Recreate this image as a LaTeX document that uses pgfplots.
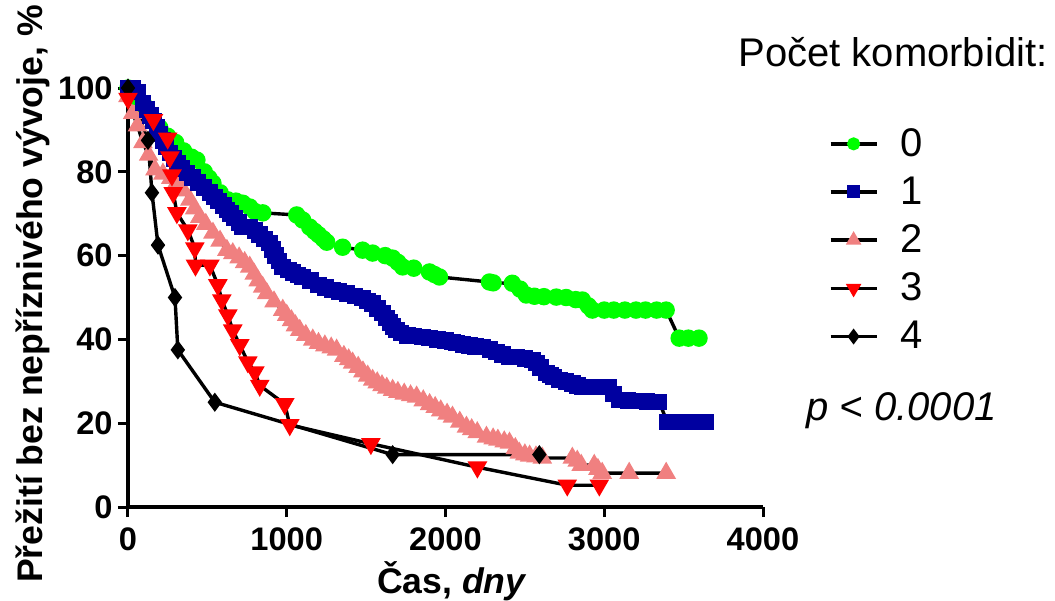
\documentclass[border=0pt]{standalone}
\usepackage{fontspec}
\setmainfont{Liberation Sans}
\usepackage{pgfplots}
\pgfplotsset{compat=1.18}

\definecolor{cGreen}{RGB}{0,255,0}
\definecolor{cBlue}{RGB}{0,0,160}
\definecolor{cPink}{RGB}{240,128,128}
\definecolor{cRed}{RGB}{255,0,0}

\pgfplotsset{
  km legend/.style={legend image code/.code={\draw[mark repeat=2,mark phase=2] plot coordinates {(0pt,0pt)(11.5pt,0pt)(23pt,0pt)};}},
  km/.style={black, line width=1.7pt},
}

\begin{document}
\begin{tikzpicture}
\path[use as bounding box] (-64pt,-46.5pt) rectangle (463.5pt,253.5pt);
\begin{axis}[
  at={(0pt,0pt)}, anchor=south west,
  scale only axis,
  width=317.5pt, height=209.5pt,
  xmin=0, xmax=4000, ymin=0, ymax=100,
  clip=false,
  axis x line=bottom, axis y line=left,
  axis line style={-, line width=2.2pt},
  xtick={0,1000,2000,3000,4000},
  ytick={0,20,40,60,80,100},
  tick align=outside,
  major tick length=5pt,
  every tick/.style={black, line width=1.5pt},
  /pgf/number format/assume math mode=true,
  /pgf/number format/set thousands separator={},
  tick label style={font=\bfseries\fontsize{16.3}{18}\selectfont, inner sep=0pt},
  xticklabel style={anchor=north, yshift=-5pt},
  yticklabel style={anchor=east, xshift=-2.5pt},
  xlabel={Čas, \textit{dny}},
  ylabel={Přežití bez nepříznivého vývoje, \%},
  label style={font=\bfseries\fontsize{17.8}{20}\selectfont},
  xlabel style={at={(axis description cs:0.5102,-0.2053)}, anchor=base},
  ylabel style={at={(axis description cs:-0.1354,0.5084)}, anchor=base},
  legend style={draw=none, fill=none, at={(axis description cs:1.0937,0.637)}, anchor=west,
    font=\fontsize{20}{24}\selectfont, legend cell align=left,
    nodes={inner ysep=0pt, inner xsep=6.75pt}, row sep=8.7pt},
]
% legend images, in order 0..4
\addlegendimage{km legend, km, mark=*, mark options={fill=cGreen, draw=cGreen, mark size=2.4pt}}
\addlegendimage{km legend, km, mark=square*, mark options={fill=cBlue, draw=cBlue, mark size=2.4pt}}
\addlegendimage{km legend, km, mark=triangle*, mark options={fill=cPink, draw=cPink, mark size=2.8pt}}
\addlegendimage{km legend, km, mark=triangle*, mark options={fill=cRed, draw=cRed, mark size=2.8pt, rotate=180}}
\addlegendimage{km legend, km, mark=diamond*, mark options={fill=black, draw=black, mark size=2.6pt}}
\legend{\hspace{4.5pt}0,\hspace{4.5pt}1,\hspace{4.5pt}2,\hspace{4.5pt}3,\hspace{4.5pt}4}

% 2 comorbidities
\addplot[forget plot, km, mark=triangle*, mark options={fill=cPink, draw=cPink, mark size=4pt}] coordinates {
(0,98)(30,94)(60,91)(94,87)(130,84)(170,80.5)(220,79.5)(270,78.5)(308,77.5)(350,75.5)
(390,73.3)(420,71.2)(453,69.2)(490,67.5)(535,65.4)(580,63.5)(623,61.3)(660,60.5)(700,59.5)
(735,58.4)(767,57.3)(795,55.6)(820,54)(848,52.5)(874,51)(920,49)(975,47)(1000,45.8)
(1030,44.5)(1055,43.3)(1082,42.2)(1120,41)(1164,39.9)(1200,39.1)(1240,38.5)(1280,38)
(1314,37.5)(1360,36)(1390,35.2)(1415,34.4)(1450,33.4)(1480,32.3)(1510,31.3)(1541,30.3)
(1570,29.7)(1600,29)(1630,28.4)(1667,27.9)(1700,27.4)(1740,27)(1780,26.6)(1818,26.3)
(1860,25.4)(1900,24.5)(1935,23.8)(1970,23)(2010,22.2)(2044,21.5)(2090,20.3)(2132,19.1)
(2165,18.5)(2200,17.8)(2258,16.7)(2300,16.3)(2330,16)(2370,15.6)(2403,15.3)(2440,14)
(2465,12.9)(2500,12.5)(2530,12.2)(2570,12)(2610,11.7)(2799,11.7)(2830,11)(2855,10)
(2937,10)(2960,9)(2987,8.1)(3157,8.1)(3390,8.1)
};
% 0 comorbidities
\addplot[forget plot, km, mark=*, mark options={fill=cGreen, draw=cGreen, mark size=3.5pt}] coordinates {
(0,100)(50,98)(100,96)(150,93)(200,90.5)(250,88.5)(300,87)(350,85)(400,83.5)(434,82.8)
(480,80)(510,78.5)(535,77.3)(580,75)(629,73.3)(680,73)(723,72.5)(767,71.6)(800,70.5)
(849,70.2)(1063,69.7)(1100,68.5)(1145,66.8)(1175,65.8)(1200,65)(1230,64)(1252,63.2)
(1352,62)(1478,61.3)(1541,60.6)(1620,60)(1667,59.4)(1700,58.4)(1730,57.3)(1800,57)
(1899,56.1)(1930,55.5)(1962,54.9)(2277,53.7)(2300,53.5)(2421,53.4)(2470,52)(2509,50.6)
(2560,50.3)(2620,50.2)(2698,50.1)(2760,50)(2820,49.5)(2862,49.4)(2900,48)(2925,47)
(3000,47)(3060,47)(3130,47)(3200,47)(3260,47)(3330,47)(3390,47)(3472,40.3)(3530,40.3)(3597,40.3)
};
% 1 comorbidity
\addplot[forget plot, km, mark=square*, mark options={fill=cBlue, draw=cBlue, mark size=3.3pt}] coordinates {
(0,100)(30,100)(60,99)(94,96.4)(120,94.8)(140,93.5)(160,92.1)(182,90.7)(200,89)(220,87.5)
(240,86)(264,84.5)(290,83.2)(310,82)(340,80.8)(371,79.7)(405,78.6)(440,77.5)(480,76.3)
(516,75)(545,74)(570,73)(600,71.9)(623,70.9)(645,70)(670,69)(700,67.9)(723,66.8)(767,66.8)
(800,66)(830,65)(860,64)(893,63)(910,61.5)(930,60)(950,58.7)(975,57.3)(1010,56.6)(1040,56)
(1070,55.4)(1101,54.9)(1150,54)(1200,53)(1245,52.4)(1289,51.8)(1330,51.4)(1380,51)
(1430,50.4)(1478,49.9)(1510,49.2)(1540,48.5)(1570,47.4)(1604,46.3)(1630,45.1)(1650,44)
(1670,43.1)(1692,42.2)(1720,41.5)(1760,41)(1800,40.8)(1855,40.6)(1900,40.3)(1950,40)
(2000,39.7)(2044,39.4)(2069,39.1)(2110,38.8)(2150,38.5)(2190,38.3)(2233,38.2)(2280,37.6)
(2320,37)(2360,36.4)(2403,35.8)(2447,35.8)(2500,35.4)(2547,35.1)(2572,34.4)(2600,33.3)
(2635,32)(2660,31.5)(2680,31)(2717,30.3)(2760,29.9)(2800,29.5)(2830,29)(2862,28.6)
(2950,28.6)(3031,28.6)(3060,27)(3094,25.5)(3150,25.4)(3200,25.3)(3270,25.2)(3346,25.1)
(3396,20.3)(3450,20.3)(3500,20.3)(3540,20.3)(3580,20.3)(3642,20.3)
};
% 4 comorbidities
\addplot[forget plot, km, mark=diamond*, mark options={fill=black, draw=black, mark size=3.4pt}] coordinates {
(0,100)(126,87.5)(151,75)(189,62.5)(296,50)(314,37.5)(547,25)(1667,12.5)(2591,12.5)
};
% 3 comorbidities
\addplot[forget plot, km, mark=triangle*, mark options={fill=cRed, draw=cRed, mark size=4pt, rotate=180}] coordinates {
(0,97.5)(160,92.4)(250,88)(264,83.5)(277,79.2)(285,75)(308,70.2)(377,66.1)(421,61.8)
(425,57.7)(516,57.7)(566,53)(591,49.4)(629,45.8)(660,42.2)(704,38.7)(755,34.6)(799,32.2)
(830,29)(987,24.6)(1019,19.6)(1530,15.1)(2201,9.5)(2767,5.2)(2969,5.2)
};
\end{axis}
\node[anchor=base west, inner sep=0pt, font=\fontsize{20}{24}\selectfont] at (305pt,220pt) {Počet komorbidit:};
\node[anchor=base west, inner sep=0pt, font=\fontsize{20}{24}\selectfont\itshape] at (339pt,43.5pt) {p < 0.0001};
\end{tikzpicture}
\end{document}
